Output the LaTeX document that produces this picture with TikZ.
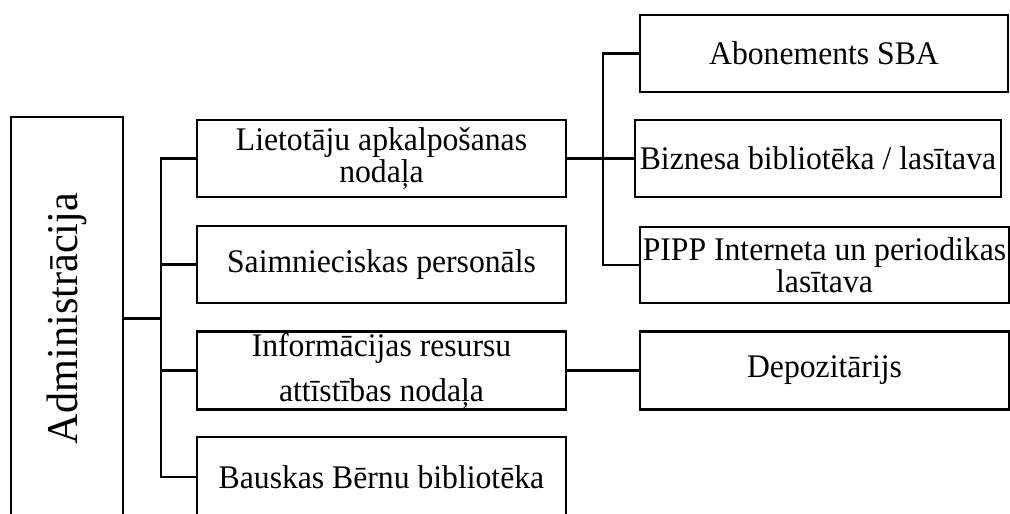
\documentclass[tikz,border=0pt]{standalone}
\usepackage{fontspec}
\setmainfont[FakeStretch=0.96]{Liberation Serif}
\usepackage{tikz}

\begin{document}
\begin{tikzpicture}[x=1pt, y=-1pt, line width=2.1pt,
    unit/.style={draw, line width=2.1pt, align=center, inner sep=0pt,
      font=\fontsize{33}{32.5}\selectfont,
      minimum width=369pt, minimum height=77pt}]
\useasboundingbox (0, 0) rectangle (1010, 514);
\node[draw, minimum width=112pt, minimum height=403pt] (admin) at (67, 318.5) {};
\node[rotate=90, font=\fontsize{44}{44}\selectfont] (admlabel) at (admin.center) {Administrācija};

\node[unit] (lietotaji) at (381.5, 158.5) {Lietotāju apkalpošanas\\nodaļa};
\node[unit] (saimn) at (381.5, 264.5) {Saimnieciskas personāls};
\node[unit, minimum height=78pt, font=\fontsize{33}{45}\selectfont] (info) at (381.5, 370.5) {Informācijas resursu\\attīstības nodaļa};
\node[unit, minimum height=80pt] (bauska) at (381.5, 477) {Bauskas Bērnu bibliotēka};

\node[unit, minimum width=368pt] (abon) at (824, 53.5) {Abonements SBA};
\node[unit, minimum width=366pt] (biz) at (818, 158.5) {Biznesa bibliotēka / lasītava};
\node[unit, minimum height=76pt] (pipp) at (824.5, 265) {PIPP Interneta un periodikas\\lasītava};
\node[unit, minimum height=78pt] (depo) at (824.5, 370.5) {Depozitārijs};

\coordinate (forkL) at (161, 0);
\coordinate (forkR) at (603, 0);
\draw (lietotaji.west) -- (lietotaji.west -| forkL) |- (bauska.west);
\foreach \n in {admin.east, saimn.west, info.west}
    \draw (\n) -- (\n -| forkL);
\draw (abon.west) -- (abon.west -| forkR) |- (pipp.west);
\draw (lietotaji.east) -- (biz.west);
\fill (lietotaji.east -| forkR) circle (2.2pt);
\draw (info.east) -- (depo.west);
\end{tikzpicture}
\end{document}
